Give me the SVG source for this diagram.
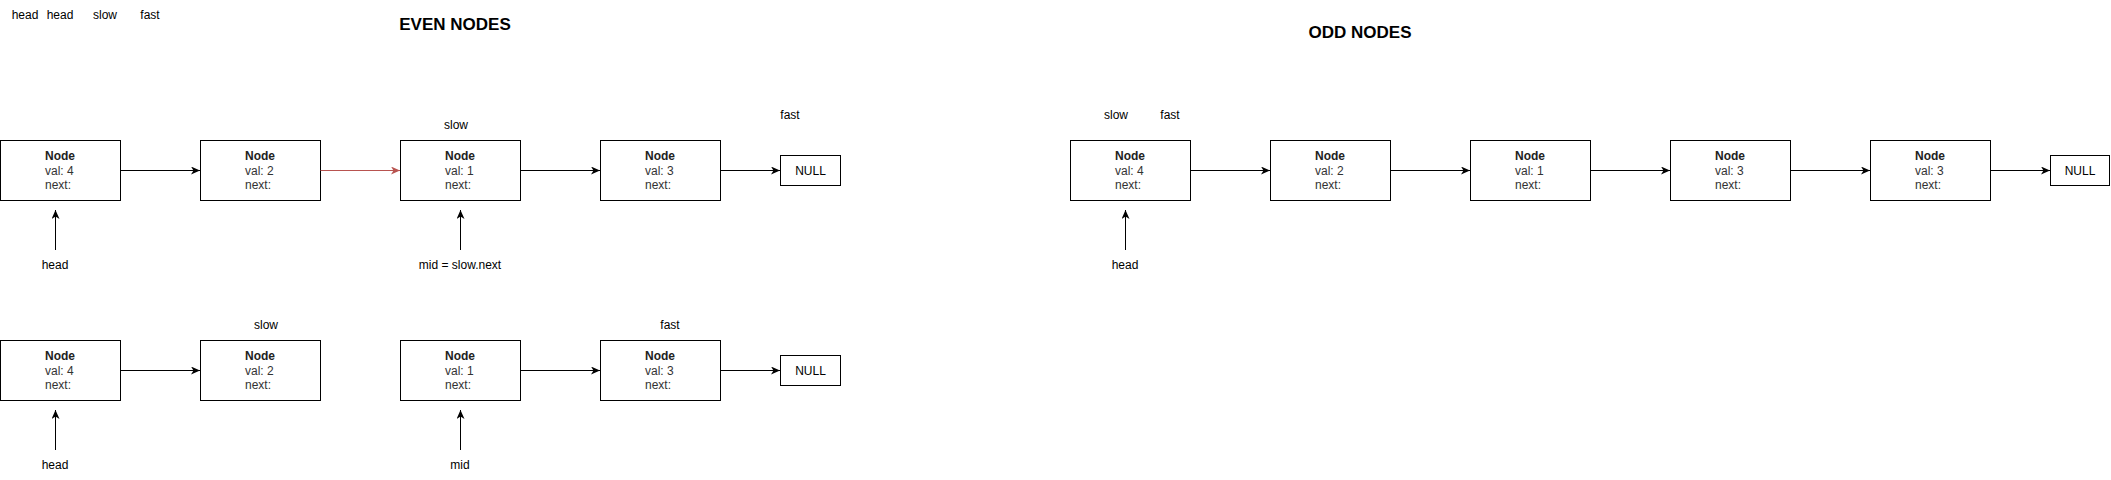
<svg xmlns="http://www.w3.org/2000/svg" width="2111" height="480" viewBox="0 0 2111 480">
<defs>
<style>
.box{fill:#fff;stroke:#000;stroke-width:1}
.t{font-family:"Liberation Sans",Arial,sans-serif;font-size:12px;fill:#000}
.c{text-anchor:middle}
.nb{font-weight:bold;fill:#222}
.nv{fill:#333}
.title{font-family:"Liberation Sans",Arial,sans-serif;font-size:17px;font-weight:bold;text-anchor:middle;fill:#000}
.e{fill:none;stroke:#000;stroke-width:1}
.red{stroke:#b85450}
</style>
<marker id="ah" markerUnits="userSpaceOnUse" markerWidth="10" markerHeight="10" refX="9" refY="4" orient="auto">
<path d="M0,0 L9,4 L0,8 L2.5,4 z" fill="#000"/>
</marker>
<marker id="ahr" markerUnits="userSpaceOnUse" markerWidth="10" markerHeight="10" refX="9" refY="4" orient="auto">
<path d="M0,0 L9,4 L0,8 L2.5,4 z" fill="#b85450"/>
</marker>
</defs>
<rect width="2111" height="480" fill="#fff"/>

<g id="labels">
<text class="t c" x="25" y="19">head</text>
<text class="t c" x="60" y="19">head</text>
<text class="t c" x="105" y="19">slow</text>
<text class="t c" x="150" y="19">fast</text>
<text class="title" x="455" y="30">EVEN NODES</text>
<text class="title" x="1360" y="38">ODD NODES</text>
<text class="t c" x="456" y="129">slow</text>
<text class="t c" x="790" y="119">fast</text>
<text class="t c" x="55" y="269">head</text>
<text class="t c" x="460" y="269">mid = slow.next</text>
<text class="t c" x="266" y="329">slow</text>
<text class="t c" x="670" y="329">fast</text>
<text class="t c" x="55" y="469">head</text>
<text class="t c" x="460" y="469">mid</text>
<text class="t c" x="1116" y="119">slow</text>
<text class="t c" x="1170" y="119">fast</text>
<text class="t c" x="1125" y="269">head</text>
</g>

<g id="even-top-n1"><rect class="box" x="0.5" y="140.5" width="120" height="60"/><text class="t" x="45" y="160"><tspan class="nb">Node</tspan><tspan class="nv" x="45" dy="14.5">val: 4</tspan><tspan class="nv" x="45" dy="14.5">next:</tspan></text></g>
<g id="even-top-n2"><rect class="box" x="200.5" y="140.5" width="120" height="60"/><text class="t" x="245" y="160"><tspan class="nb">Node</tspan><tspan class="nv" x="245" dy="14.5">val: 2</tspan><tspan class="nv" x="245" dy="14.5">next:</tspan></text></g>
<g id="even-top-n3"><rect class="box" x="400.5" y="140.5" width="120" height="60"/><text class="t" x="445" y="160"><tspan class="nb">Node</tspan><tspan class="nv" x="445" dy="14.5">val: 1</tspan><tspan class="nv" x="445" dy="14.5">next:</tspan></text></g>
<g id="even-top-n4"><rect class="box" x="600.5" y="140.5" width="120" height="60"/><text class="t" x="645" y="160"><tspan class="nb">Node</tspan><tspan class="nv" x="645" dy="14.5">val: 3</tspan><tspan class="nv" x="645" dy="14.5">next:</tspan></text></g>
<g id="even-top-null"><rect class="box" x="780.5" y="155.5" width="60" height="30"/><text class="t c" x="810.5" y="175">NULL</text></g>

<g id="even-bot-n1"><rect class="box" x="0.5" y="340.5" width="120" height="60"/><text class="t" x="45" y="360"><tspan class="nb">Node</tspan><tspan class="nv" x="45" dy="14.5">val: 4</tspan><tspan class="nv" x="45" dy="14.5">next:</tspan></text></g>
<g id="even-bot-n2"><rect class="box" x="200.5" y="340.5" width="120" height="60"/><text class="t" x="245" y="360"><tspan class="nb">Node</tspan><tspan class="nv" x="245" dy="14.5">val: 2</tspan><tspan class="nv" x="245" dy="14.5">next:</tspan></text></g>
<g id="even-bot-n3"><rect class="box" x="400.5" y="340.5" width="120" height="60"/><text class="t" x="445" y="360"><tspan class="nb">Node</tspan><tspan class="nv" x="445" dy="14.5">val: 1</tspan><tspan class="nv" x="445" dy="14.5">next:</tspan></text></g>
<g id="even-bot-n4"><rect class="box" x="600.5" y="340.5" width="120" height="60"/><text class="t" x="645" y="360"><tspan class="nb">Node</tspan><tspan class="nv" x="645" dy="14.5">val: 3</tspan><tspan class="nv" x="645" dy="14.5">next:</tspan></text></g>
<g id="even-bot-null"><rect class="box" x="780.5" y="355.5" width="60" height="30"/><text class="t c" x="810.5" y="375">NULL</text></g>

<g id="odd-n1"><rect class="box" x="1070.5" y="140.5" width="120" height="60"/><text class="t" x="1115" y="160"><tspan class="nb">Node</tspan><tspan class="nv" x="1115" dy="14.5">val: 4</tspan><tspan class="nv" x="1115" dy="14.5">next:</tspan></text></g>
<g id="odd-n2"><rect class="box" x="1270.5" y="140.5" width="120" height="60"/><text class="t" x="1315" y="160"><tspan class="nb">Node</tspan><tspan class="nv" x="1315" dy="14.5">val: 2</tspan><tspan class="nv" x="1315" dy="14.5">next:</tspan></text></g>
<g id="odd-n3"><rect class="box" x="1470.5" y="140.5" width="120" height="60"/><text class="t" x="1515" y="160"><tspan class="nb">Node</tspan><tspan class="nv" x="1515" dy="14.5">val: 1</tspan><tspan class="nv" x="1515" dy="14.5">next:</tspan></text></g>
<g id="odd-n4"><rect class="box" x="1670.5" y="140.5" width="120" height="60"/><text class="t" x="1715" y="160"><tspan class="nb">Node</tspan><tspan class="nv" x="1715" dy="14.5">val: 3</tspan><tspan class="nv" x="1715" dy="14.5">next:</tspan></text></g>
<g id="odd-n5"><rect class="box" x="1870.5" y="140.5" width="120" height="60"/><text class="t" x="1915" y="160"><tspan class="nb">Node</tspan><tspan class="nv" x="1915" dy="14.5">val: 3</tspan><tspan class="nv" x="1915" dy="14.5">next:</tspan></text></g>
<g id="odd-null"><rect class="box" x="2050.5" y="155.5" width="59" height="30"/><text class="t c" x="2080" y="175">NULL</text></g>

<g id="connectors">
<path class="e" d="M120.5,170.5 H200" marker-end="url(#ah)"/>
<path class="e red" d="M320.5,170.5 H400" marker-end="url(#ahr)"/>
<path class="e" d="M520.5,170.5 H600" marker-end="url(#ah)"/>
<path class="e" d="M720.5,170.5 H780" marker-end="url(#ah)"/>
<path class="e" d="M55.5,250 V210" marker-end="url(#ah)"/>
<path class="e" d="M460.5,250 V210" marker-end="url(#ah)"/>

<path class="e" d="M120.5,370.5 H200" marker-end="url(#ah)"/>
<path class="e" d="M520.5,370.5 H600" marker-end="url(#ah)"/>
<path class="e" d="M720.5,370.5 H780" marker-end="url(#ah)"/>
<path class="e" d="M55.5,450 V410" marker-end="url(#ah)"/>
<path class="e" d="M460.5,450 V410" marker-end="url(#ah)"/>

<path class="e" d="M1190.5,170.5 H1270" marker-end="url(#ah)"/>
<path class="e" d="M1390.5,170.5 H1470" marker-end="url(#ah)"/>
<path class="e" d="M1590.5,170.5 H1670" marker-end="url(#ah)"/>
<path class="e" d="M1790.5,170.5 H1870" marker-end="url(#ah)"/>
<path class="e" d="M1990.5,170.5 H2050" marker-end="url(#ah)"/>
<path class="e" d="M1125.5,250 V210" marker-end="url(#ah)"/>
</g>
</svg>
